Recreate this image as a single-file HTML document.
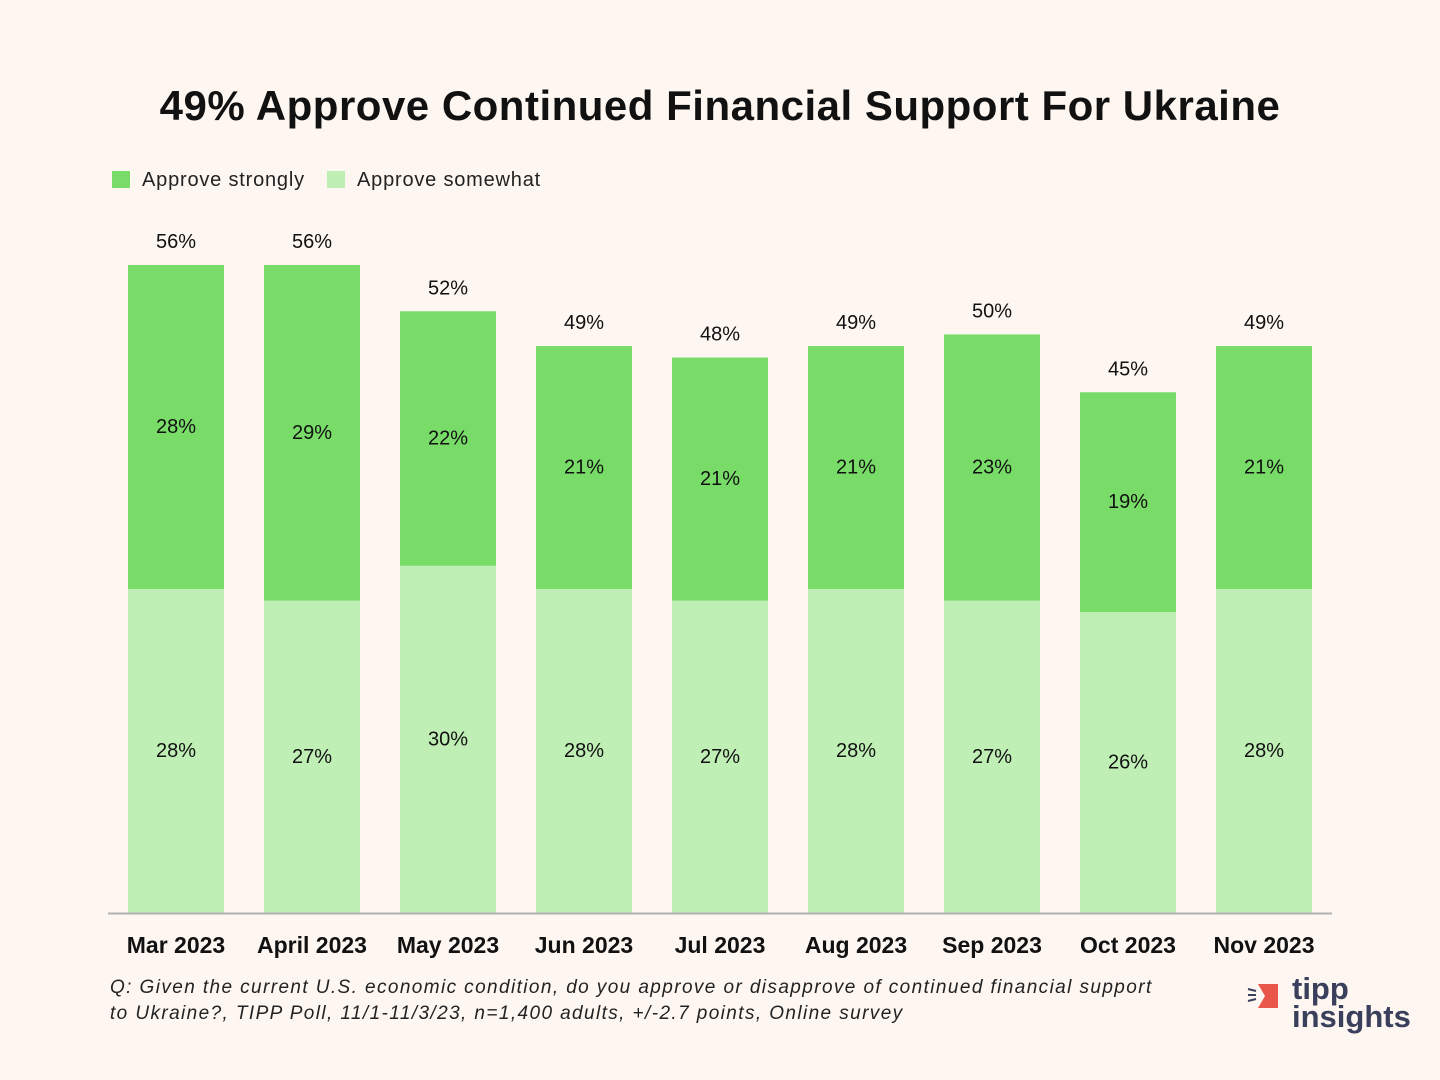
<!DOCTYPE html>
<html><head><meta charset="utf-8"><style>
body{margin:0;width:1440px;height:1080px;background:#fdf6f1;font-family:"Liberation Sans",sans-serif;overflow:hidden;position:relative}
.t{position:absolute}
</style></head><body>
<div class="t" style="left:0;width:1440px;top:82px;text-align:center;font-size:42px;font-weight:bold;color:#111;letter-spacing:0.5px">49% Approve Continued Financial Support For Ukraine</div>
<div class="t" style="left:112px;top:169px;font-size:20px;color:#222;letter-spacing:0.8px"><span style="display:inline-block;width:18px;height:17px;background:#79dc69;vertical-align:-2px;margin-right:12px"></span>Approve strongly</div>
<div class="t" style="left:327px;top:169px;font-size:20px;color:#222;letter-spacing:0.8px"><span style="display:inline-block;width:18px;height:17px;background:#c0efb6;vertical-align:-2px;margin-right:12px"></span>Approve somewhat</div>
<svg id="chart" width="1440" height="1080" style="position:absolute;left:0;top:0"></svg>
<div class="t" style="left:110px;top:975px;font-size:19px;font-style:italic;color:#222;line-height:26px;letter-spacing:1.4px">Q: Given the current U.S. economic condition, do you approve or disapprove of continued financial support<br>to Ukraine?, TIPP Poll, 11/1-11/3/23, n=1,400 adults, +/-2.7 points, Online survey</div>
<div class="t" style="left:1246px;top:980px;width:180px;height:60px">
<svg width="34" height="30" style="position:absolute;left:0;top:2px"><path d="M2 7 L10 9 M2 13 L10 13 M2 19 L10 17" stroke="#3a3f5c" stroke-width="2"/><polygon points="12,2 32,2 32,26 12,26 19,14" fill="#e9574a"/></svg>
<div style="position:absolute;left:46px;top:-6px;font-size:31px;font-weight:bold;color:#3a3f5c;line-height:30px">tipp</div>
<div style="position:absolute;left:46px;top:22px;font-size:31px;font-weight:bold;color:#3a3f5c;line-height:30px">insights</div>
</div>
<script>
const categories=["Mar 2023","April 2023","May 2023","Jun 2023","Jul 2023","Aug 2023","Sep 2023","Oct 2023","Nov 2023"];
const somewhat=[28,27,30,28,27,28,27,26,28];
const strongly=[28,29,22,21,21,21,23,19,21];
const totals=[56,56,52,49,48,49,50,45,49];
const NS="http://www.w3.org/2000/svg";
const svg=document.getElementById('chart');
const base=913,pxPer=648/56,x0=176,step=136,bw=96;
const y=v=>base-v*pxPer;
const x=i=>x0+i*step;
function mk(t,a){const e=document.createElementNS(NS,t);for(const k in a)e.setAttribute(k,a[k]);svg.appendChild(e);return e;}
function txt(s,cx,cy,size,bold,name){const e=mk('text',{x:cx,y:cy,'text-anchor':'middle','dominant-baseline':'central','font-size':size,'font-family':'Liberation Sans, sans-serif',fill:'#111','font-weight':bold?'bold':'normal'});e.textContent=s;


return e;}
categories.forEach((c,i)=>{
 const s=somewhat[i],st=strongly[i];
 const r1=mk('rect',{x:x(i)-bw/2,y:y(s),width:bw,height:base-y(s),fill:'#c0efb6'});
 
 
 const r2=mk('rect',{x:x(i)-bw/2,y:y(s+st),width:bw,height:y(s)-y(s+st),fill:'#79dc69'});
 
 
 txt(s+'%',x(i),(y(s)+base)/2,20,false,'label-somewhat');
 txt(st+'%',x(i),(y(s)+y(s+st))/2,20,false,'label-strongly');
 txt(totals[i]+'%',x(i),y(s+st)-23,20,false,'label-total');
 txt(c,x(i),945,23,true,'x-axis-label');
});
const ax=mk('line',{x1:108,x2:1332,y1:base+0.5,y2:base+0.5,stroke:'#b0b0b0','stroke-width':2});


</script>
</body></html>
